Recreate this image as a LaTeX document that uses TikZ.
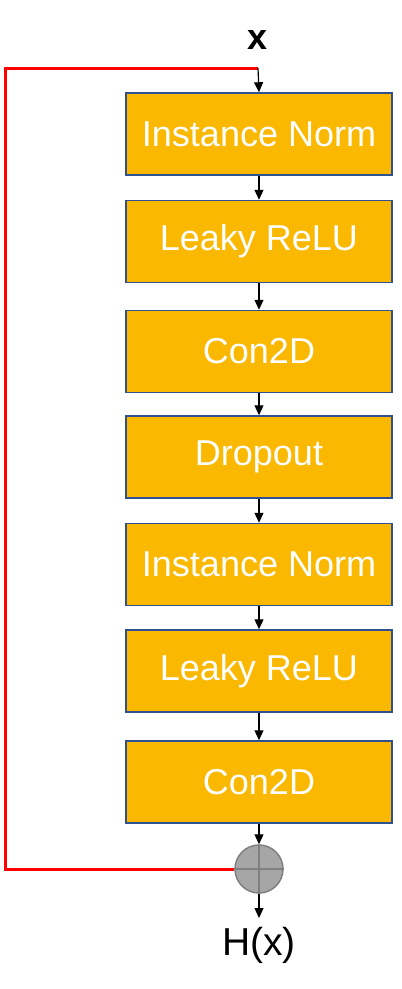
\documentclass[tikz,border=0pt]{standalone}
\usepackage{fontspec}
\setmainfont{Liberation Sans}
\usetikzlibrary{arrows.meta}

\definecolor{boxfill}{RGB}{250,185,0}
\definecolor{boxline}{RGB}{47,82,143}
\definecolor{sumfill}{RGB}{166,166,166}
\definecolor{sumline}{RGB}{127,127,127}

\tikzset{
	layer/.style={draw=boxline, line width=1.5pt, fill=boxfill, text=white,
		minimum width=266pt, minimum height=82pt, inner sep=0pt,
		font=\fontsize{36}{42}\selectfont},
	flow/.style={-{Triangle[width=9pt,length=10pt]}, line width=1.2pt},
	skip/.style={draw=red, line width=3pt}
}

\begin{document}
\begin{tikzpicture}[x=1pt, y=-1pt]
	\useasboundingbox (0,0) rectangle (402,989);

	% Input and layers
	\node[font=\bfseries\fontsize{36}{42}\selectfont] (in) at (258,40) {x};
	\coordinate (split) at (258,68);
	\coordinate (corner1) at (5,68);
	\coordinate (corner2) at (5,869);

	\node[layer] (n1) at (259,134) {Instance Norm};
	\node[layer] (n2) at (259,241.5) {Leaky ReLU};
	\node[layer] (n3) at (259,351.5) {Con2D};
	\node[layer] (n4) at (259,457) {Dropout};
	\node[layer] (n5) at (259,564.5) {Instance Norm};
	\node[layer] (n6) at (259,671) {Leaky ReLU};
	\node[layer] (n7) at (259,782) {Con2D};

	% Sum node
	\node[draw=sumline, line width=1.5pt, fill=sumfill, circle, minimum size=48pt, inner sep=0pt] (sum) at (259,869) {};
	\draw[sumline, line width=1.5pt] (sum.north) -- (sum.south);
	\draw[sumline, line width=1.5pt] (sum.west) -- (sum.east);

	\node[font=\fontsize{39}{45}\selectfont] (out) at (259,945) {H(x)};

	% Skip connection
	\draw[skip] (split) -- (corner1) -- (corner2) -- (sum.west);

	% Main path
	\draw[flow] (split) -- (n1.north);
	\draw[flow] (n1) -- (n2);
	\draw[flow] (n2) -- (n3);
	\draw[flow] (n3) -- (n4);
	\draw[flow] (n4) -- (n5);
	\draw[flow] (n5) -- (n6);
	\draw[flow] (n6) -- (n7);
	\draw[flow] (n7) -- (sum);
	\draw[flow] (sum.south) -- (259,918);
\end{tikzpicture}
\end{document}
